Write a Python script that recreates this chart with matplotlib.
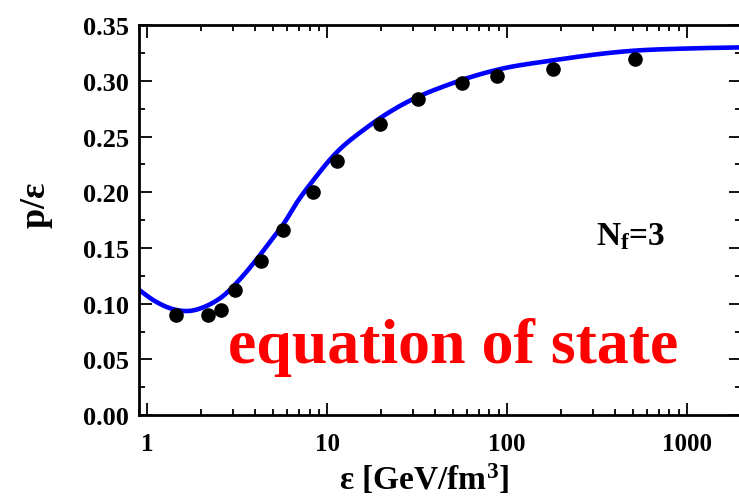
import numpy as np
import matplotlib
matplotlib.use('Agg')
import matplotlib.pyplot as plt
from matplotlib.ticker import MultipleLocator, LogLocator, NullFormatter, FixedLocator

# lattice points (energy density, p/eps)
eps_pts = [1.45, 2.18, 2.58, 3.08, 4.3, 5.7, 8.36, 11.3, 19.6, 32.2, 56.3, 88.0, 180.0, 514.0]
pe_pts = [0.0897, 0.0897, 0.0942, 0.112, 0.138, 0.166, 0.200, 0.228, 0.261, 0.2836, 0.298, 0.3045, 0.311, 0.320]

# model curve
eps_curve = [0.9, 1.1, 1.395, 1.733, 2.145, 2.65, 3.28, 4.07, 5.03, 5.72, 6.8,
             8.5, 10.84, 16.6, 25.5, 48.1, 91.5, 173.6, 504.0, 1000.0, 2000.0]
pe_curve = [0.1125, 0.1025, 0.0951, 0.0936, 0.0981, 0.1071, 0.122, 0.140, 0.1595, 0.1714,
            0.1909, 0.212, 0.2327, 0.258, 0.2776, 0.297, 0.3105, 0.318, 0.327, 0.329, 0.330]

y_ticks = [0.00, 0.05, 0.10, 0.15, 0.20, 0.25, 0.30, 0.35]
x_ticks = [1, 10, 100, 1000]
x_ticklabels = ['1', '10', '100', '1000']


def smooth(xs, ys, n=800):
    # cubic hermite in log10(x), slopes from neighbouring points
    xs = np.log10(xs)
    ys = np.asarray(ys, dtype=float)
    m = np.gradient(ys, xs)
    xf = np.linspace(xs[0], xs[-1], n)
    i = np.clip(np.searchsorted(xs, xf) - 1, 0, len(xs) - 2)
    h = xs[i + 1] - xs[i]
    t = (xf - xs[i]) / h
    yf = ((2*t**3 - 3*t**2 + 1) * ys[i] + (t**3 - 2*t**2 + t) * h * m[i]
          + (-2*t**3 + 3*t**2) * ys[i + 1] + (t**3 - t**2) * h * m[i + 1])
    return 10**xf, yf


plt.rcParams['font.family'] = ['Liberation Serif', 'DejaVu Serif']
plt.rcParams['font.weight'] = 'bold'
plt.rcParams['mathtext.fontset'] = 'custom'
plt.rcParams['mathtext.rm'] = 'Liberation Serif:bold'
plt.rcParams['mathtext.bf'] = 'Liberation Serif:bold'
plt.rcParams['mathtext.it'] = 'Liberation Serif:bold'

fig = plt.figure(figsize=(7.39, 5.02), dpi=100)
ax = fig.add_axes([0.188, 0.171, 0.8146, 0.777])

cx, cy = smooth(eps_curve, pe_curve)
ax.plot(cx, cy, color='#0000ff', lw=3.3, zorder=2)
ax.plot(eps_pts, pe_pts, 'o', color='black', ms=9.5, zorder=3)

ax.set_xscale('log')
ax.set_xlim(0.9, 2000)
ax.set_ylim(0.0, 0.35)

ax.xaxis.set_major_locator(FixedLocator(x_ticks))
ax.set_xticklabels(x_ticklabels)
ax.xaxis.set_minor_locator(LogLocator(base=10, subs=np.arange(2, 10), numticks=20))
ax.xaxis.set_minor_formatter(NullFormatter())
ax.set_yticks(y_ticks)
ax.set_yticklabels(['%.2f' % v for v in y_ticks])
ax.yaxis.set_minor_locator(MultipleLocator(0.025))

ax.tick_params(which='both', direction='in', top=True, right=True, width=1.3)
ax.tick_params(which='major', length=9)
ax.tick_params(which='minor', length=4.5)
ax.tick_params(axis='y', labelsize=19, pad=7)
ax.tick_params(axis='x', labelsize=18, pad=12)
for s in ax.spines.values():
    s.set_linewidth(2)

ax.set_xlabel(r'$\mathbf{\varepsilon}$ [GeV/fm$^\mathbf{3}$]', fontsize=24, fontweight='bold')
ax.xaxis.set_label_coords(0.473, -0.118)
ax.set_ylabel(r'p/$\mathbf{\varepsilon}$', fontsize=26, fontweight='bold')
ax.yaxis.set_label_coords(-0.14, 0.541)

ax.text(0.76, 0.438, r'N$_\mathbf{f}$=3', transform=ax.transAxes, fontsize=24, fontweight='bold')
ax.text(0.148, 0.137, 'equation of state', transform=ax.transAxes, fontsize=46,
        fontweight='bold', color='#ff0000')

fig.savefig('out.png', dpi=100)
